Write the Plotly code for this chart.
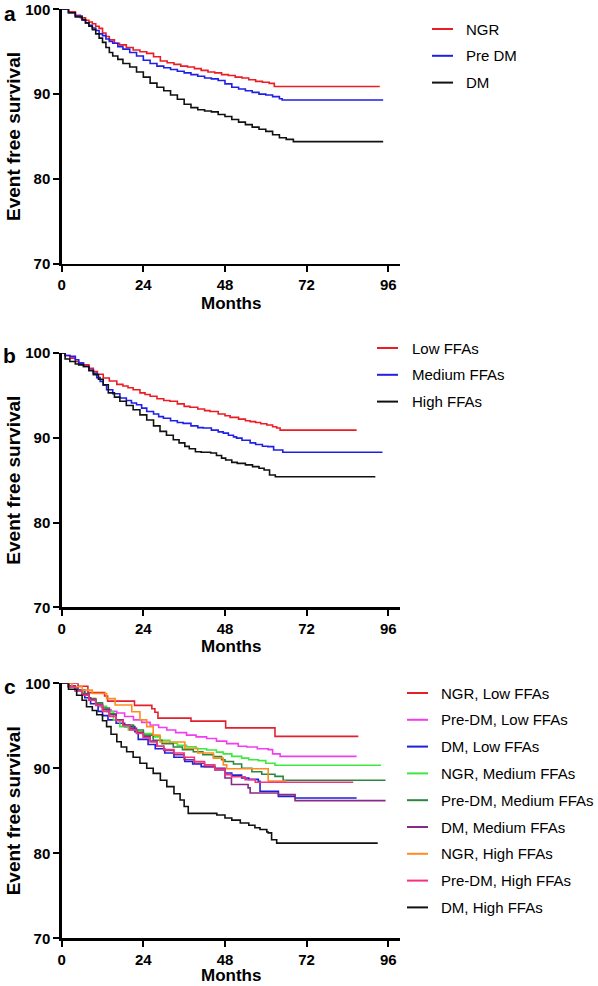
import plotly.graph_objects as go

W, H = 598, 986

# ---------------- data (months, event free survival %) ----------------
# Panel a
a_ngr_m = [0, 2, 4, 5.5, 7, 8, 9, 10, 11, 12, 13, 14, 15.5, 17, 19, 21, 23, 25, 27, 29, 31, 33, 35, 37, 39, 41, 43, 45, 47, 49, 51, 53, 55, 57, 59, 61, 62.5, 93.5]
a_ngr_s = [100, 99.7, 99.3, 99.0, 98.7, 98.5, 98.3, 98.0, 97.75, 97.2, 96.8, 96.4, 96.0, 95.8, 95.5, 95.2, 95.0, 94.8, 94.4, 93.9, 93.7, 93.5, 93.3, 93.2, 93.0, 92.8, 92.6, 92.5, 92.3, 92.2, 92.0, 91.9, 91.7, 91.5, 91.4, 91.27, 90.9, 90.9]
a_pre_m = [0, 2, 4, 6, 7, 8, 9, 10, 11, 12, 13, 14, 15, 16.5, 18, 20, 22, 24, 26, 28, 30, 32, 34, 36, 38, 40, 42, 44, 46, 48, 50, 52, 54, 56, 58, 60, 62, 64, 64.8, 94.5]
a_pre_s = [100, 99.6, 99.2, 98.7, 98.4, 98.1, 97.8, 97.5, 97.1, 96.9, 96.5, 96.2, 96.0, 95.6, 95.3, 94.9, 94.5, 94.0, 93.6, 93.3, 93.1, 92.9, 92.7, 92.5, 92.3, 92.1, 91.9, 91.8, 91.6, 91.2, 90.8, 90.6, 90.4, 90.2, 90.0, 89.9, 89.7, 89.45, 89.3, 89.3]
a_dm_m = [0, 2, 4, 6, 7, 8, 9, 10, 11, 12, 13, 14, 15, 16.5, 18, 20, 22, 24, 26, 28, 30, 32, 34, 36, 38, 40, 42, 44, 46, 48, 50, 52, 54, 56, 58, 60, 62, 64, 66, 68.1, 94.5]
a_dm_s = [100, 99.6, 99.1, 98.8, 98.4, 98.0, 97.6, 97.1, 96.6, 96.1, 95.5, 94.9, 94.5, 94.1, 93.6, 93.2, 92.6, 92.0, 91.3, 90.8, 90.4, 89.9, 89.4, 88.8, 88.4, 88.15, 88.0, 87.9, 87.6, 87.35, 87.0, 86.7, 86.4, 86.1, 85.85, 85.6, 85.2, 84.85, 84.66, 84.4, 84.4]

# Panel b
b_low_m = [0, 1, 2.4, 4, 5, 6.4, 8, 9.3, 10.5, 12.2, 14, 16.2, 18, 19.5, 21, 23, 24.5, 26, 28, 30, 31.8, 34, 36, 37.7, 40, 42, 43.6, 46, 48, 49.5, 52, 54, 55.4, 57, 58.5, 60.3, 62, 63.2, 64.2, 86.7]
b_low_s = [100, 99.7, 99.4, 99.0, 98.8, 98.6, 98.2, 97.8, 97.5, 97.05, 96.7, 96.3, 96.1, 95.9, 95.67, 95.3, 95.1, 94.9, 94.6, 94.4, 94.3, 94.0, 93.7, 93.6, 93.4, 93.2, 93.1, 92.8, 92.6, 92.4, 92.2, 92.0, 91.9, 91.8, 91.65, 91.5, 91.3, 91.15, 90.9, 90.9]
b_med_m = [0, 1, 2.4, 4, 5, 6.4, 8, 9.3, 10.3, 11.3, 12.2, 13.2, 15, 17.1, 19, 20.5, 22, 23.5, 25, 27, 28.5, 29.9, 32, 34, 35.7, 38, 40, 41.6, 44, 46, 47.5, 49, 50.5, 51.4, 53, 55.4, 57, 59, 60.6, 62.3, 65, 94.3]
b_med_s = [100, 99.7, 99.6, 99.2, 98.8, 98.4, 98.0, 97.6, 97.1, 96.65, 96.2, 95.67, 95.2, 94.7, 94.4, 94.1, 93.9, 93.5, 93.1, 92.8, 92.5, 92.3, 92.0, 91.8, 91.7, 91.4, 91.2, 91.15, 90.9, 90.7, 90.55, 90.3, 90.1, 89.96, 89.7, 89.4, 89.2, 89.0, 88.95, 88.55, 88.3, 88.3]
b_high_m = [0, 1, 2.4, 4, 5, 6.4, 8, 9.3, 10.8, 12.2, 13.7, 15.5, 17.1, 19, 21, 23, 25, 27, 28.9, 30.8, 32.8, 34.5, 36.2, 37.5, 39.3, 41, 43.8, 45.5, 47, 48.2, 50, 51.6, 54, 56.1, 58, 59.5, 61.1, 62.8, 92.2]
b_high_s = [100, 99.3, 99.0, 98.7, 98.6, 98.4, 97.9, 97.45, 96.9, 96.26, 95.3, 94.8, 94.3, 93.8, 93.3, 92.7, 92.1, 91.4, 90.75, 90.3, 89.76, 89.4, 88.98, 88.7, 88.35, 88.3, 88.2, 87.9, 87.6, 87.37, 87.1, 86.98, 86.8, 86.6, 86.4, 86.2, 85.6, 85.4, 85.4]

# Panel c
c_ngr_low_m = [0, 4.8, 7.7, 12.6, 13.5, 21.4, 26.5, 27.4, 28.3, 38, 48.2, 62.7, 87.2]
c_ngr_low_s = [100, 99.65, 98.9, 98.5, 97.9, 97.4, 97.0, 96.6, 95.9, 95.55, 94.75, 93.76, 93.76]
c_pre_low_m = [0, 2, 4, 6.4, 8, 10, 11.3, 13, 14.5, 16.2, 18.5, 21.1, 23.5, 26, 28.5, 30.9, 33.5, 36.7, 39.5, 42.6, 45.5, 48.5, 51.9, 54.4, 57.5, 60.7, 62, 64.2, 86.7]
c_pre_low_s = [100, 99.6, 99.1, 98.6, 98.1, 97.6, 97.25, 96.9, 96.7, 96.5, 96.1, 95.7, 95.4, 95.1, 94.8, 94.5, 94.2, 93.9, 93.7, 93.5, 93.2, 92.9, 92.6, 92.5, 92.3, 92.2, 91.7, 91.4, 91.4]
c_dm_low_m = [0, 2, 4.8, 6.8, 8.5, 10.7, 12, 13.6, 16, 18.5, 21.5, 22.5, 25.4, 27.5, 30.3, 33, 36.2, 38.5, 41, 45, 48, 50, 52.9, 55, 57.8, 58.3, 63.7, 68.6, 86.7]
c_dm_low_s = [100, 99.6, 99.25, 98.3, 97.6, 96.7, 96.2, 95.7, 95.3, 94.9, 94.3, 93.4, 92.8, 92.3, 91.8, 91.3, 90.8, 90.5, 90.2, 90.0, 89.45, 89.2, 88.86, 88.7, 88.47, 87.3, 86.7, 86.5, 86.5]
c_ngr_med_m = [0, 2, 4, 6.4, 8, 10, 11.3, 13.2, 15.2, 17.1, 19.6, 22.4, 24, 26.9, 29, 31.8, 34, 36.7, 39.5, 42.6, 45.5, 47.5, 50, 52.9, 55, 57.8, 60, 62.7, 93.9]
c_ngr_med_s = [100, 99.6, 99.1, 98.6, 98.1, 97.7, 97.3, 96.66, 95.7, 94.9, 94.5, 94.3, 94.1, 93.7, 93.3, 92.94, 92.7, 92.54, 92.3, 92.15, 91.9, 91.7, 91.4, 91.2, 91.0, 90.9, 90.6, 90.35, 90.35]
c_pre_med_m = [0, 2, 4, 6, 8, 10, 12, 14, 16, 18, 21.1, 24, 26.9, 29.5, 32.8, 35.5, 38.7, 41.5, 44.6, 47, 48, 50.5, 52.9, 55.9, 58.8, 62.7, 65.1, 95.2]
c_pre_med_s = [100, 99.6, 99.2, 98.8, 98.2, 97.7, 97.1, 96.4, 95.7, 95.1, 94.5, 93.9, 93.3, 92.9, 92.5, 92.2, 91.95, 91.6, 91.37, 91.0, 90.8, 90.5, 90.0, 89.6, 89.3, 89.05, 88.6, 88.6]
c_dm_med_m = [0, 2, 4, 6, 8, 10, 12, 14, 16, 18, 20, 22, 24, 26, 28, 30, 33, 36, 39, 42, 45, 48, 49.9, 54.8, 55.4, 63.7, 68.6, 95.2]
c_dm_med_s = [100, 99.7, 99.2, 98.7, 98.1, 97.5, 96.9, 96.3, 95.7, 95.1, 94.7, 94.2, 93.7, 93.2, 92.6, 92.1, 91.6, 91.0, 90.6, 90.2, 89.8, 88.86, 88.1, 87.7, 87.1, 86.9, 86.2, 86.2]
c_ngr_high_m = [0, 3, 6, 9, 13.2, 15.7, 20.6, 23, 25, 26.9, 28.9, 36.2, 40, 44.6, 47.5, 48.5, 60.7, 66]
c_ngr_high_s = [100, 99.6, 99.2, 98.8, 98.2, 97.45, 96.66, 95.7, 94.9, 93.9, 93.1, 92.35, 91.8, 91.2, 90.4, 89.95, 88.5, 88.5]
c_pre_high_m = [0, 2, 4, 6, 8, 10, 12, 14, 16, 18, 20, 22, 24, 26, 28, 30, 33, 36, 39, 42, 45, 48, 49.9, 53.9, 56.9, 85.7]
c_pre_high_s = [100, 99.6, 99.1, 98.6, 98.0, 97.4, 96.7, 96.1, 95.6, 95.0, 94.5, 94.1, 93.6, 93.1, 92.6, 92.2, 91.8, 91.3, 90.8, 90.4, 89.9, 89.25, 89.0, 88.66, 88.35, 88.35]
c_dm_high_m = [0, 2, 4.4, 6, 7.3, 9, 10.3, 12, 13.2, 14.5, 16.2, 17.5, 19.1, 21, 23, 25, 26.9, 29, 30.9, 33, 34.8, 36, 37.2, 45.6, 48, 50, 52.5, 55, 56.8, 58.3, 60.3, 60.7, 61.7, 63.2, 92.9]
c_dm_high_s = [100, 99.3, 98.6, 98.0, 97.25, 96.8, 96.3, 95.6, 94.9, 94.0, 93.13, 92.5, 91.95, 91.3, 90.6, 90.0, 89.4, 88.6, 87.84, 87.0, 86.27, 85.5, 84.7, 84.5, 84.15, 83.9, 83.56, 83.3, 83.0, 82.8, 82.5, 82.4, 81.6, 81.2, 81.2]

x_ticks = [0, 24, 48, 72, 96]
y_ticks = [70, 80, 90, 100]
panel_letters = ["a", "b", "c"]
x_title = "Months"
y_title = "Event free survival"

series = [
    # (panel, name, months, survival, colour)
    (0, "NGR", a_ngr_m, a_ngr_s, "#ec1c24"),
    (0, "Pre DM", a_pre_m, a_pre_s, "#1f1fe8"),
    (0, "DM", a_dm_m, a_dm_s, "#111111"),
    (1, "Low FFAs", b_low_m, b_low_s, "#ec1c24"),
    (1, "Medium FFAs", b_med_m, b_med_s, "#1f1fe8"),
    (1, "High FFAs", b_high_m, b_high_s, "#111111"),
    (2, "NGR, Low FFAs", c_ngr_low_m, c_ngr_low_s, "#e4212a"),
    (2, "Pre-DM, Low FFAs", c_pre_low_m, c_pre_low_s, "#f23cf2"),
    (2, "DM, Low FFAs", c_dm_low_m, c_dm_low_s, "#1f1fd8"),
    (2, "NGR, Medium FFAs", c_ngr_med_m, c_ngr_med_s, "#3ee83e"),
    (2, "Pre-DM, Medium FFAs", c_pre_med_m, c_pre_med_s, "#2e8540"),
    (2, "DM, Medium FFAs", c_dm_med_m, c_dm_med_s, "#862b86"),
    (2, "NGR, High FFAs", c_ngr_high_m, c_ngr_high_s, "#ff8c1f"),
    (2, "Pre-DM, High FFAs", c_pre_high_m, c_pre_high_s, "#f5327f"),
    (2, "DM, High FFAs", c_dm_high_m, c_dm_high_s, "#111111"),
]

# ---------------- layout geometry (pixels) ----------------
X_LEFT, X_RIGHT = 61.7, 400.0
PANELS = [  # (px of y=100, px of y=70, legend line x0, legend text x, first legend row y, letter top)
    (9.3, 263.7, 432, 464, 29, 0),
    (353.0, 607.3, 377, 410, 348, 342),
    (683.3, 938.3, 407, 439, 693, 673),
]
ROW_STEP = 26.8
LEG_LINE_LEN = 21
FONT = "Liberation Sans, Arial, Helvetica, sans-serif"

fig = go.Figure()
axis_ids = [("x", "y"), ("x2", "y2"), ("x3", "y3")]

for p, name, m, s, col in series:
    xa, ya = axis_ids[p]
    fig.add_trace(go.Scatter(
        x=m, y=s, mode="lines", name=name,
        line=dict(color=col, width=1.6, shape="hv"),
        xaxis=xa, yaxis=ya, showlegend=False, hoverinfo="skip",
    ))

layout = dict(
    width=W, height=H, margin=dict(l=0, r=0, t=0, b=0, autoexpand=False),
    paper_bgcolor="white", plot_bgcolor="white",
    font=dict(family=FONT, color="black"),
    showlegend=False,
)

annotations = []
shapes = []
for k, (top, bot, lx0, tx, ly0, let_top) in enumerate(PANELS):
    sfx = "" if k == 0 else str(k + 1)
    axis_common = dict(showline=True, linecolor="black", linewidth=2.4,
                       ticks="outside", ticklen=6, tickwidth=2, tickcolor="black",
                       showgrid=False, zeroline=False, automargin=False,
                       tickfont=dict(family=FONT, size=15, color="black", weight="bold"))
    layout["xaxis" + sfx] = dict(axis_common, domain=[X_LEFT / W, X_RIGHT / W],
                                 range=[0, 99.45], tickvals=x_ticks,
                                 anchor="y" + sfx, fixedrange=True)
    layout["yaxis" + sfx] = dict(axis_common, domain=[1 - bot / H, 1 - top / H],
                                 range=[70, 100], tickvals=y_ticks,
                                 anchor="x" + sfx, fixedrange=True)
    # y title
    annotations.append(dict(text=y_title, textangle=-90, x=13.5 / W, y=1 - (top + bot) / 2 / H,
                            xref="paper", yref="paper", showarrow=False,
                            xanchor="center", yanchor="middle",
                            font=dict(family=FONT, size=19, color="black", weight="bold")))
    # x title
    annotations.append(dict(text=x_title, x=(X_LEFT + X_RIGHT) / 2 / W,
                            y=1 - min(bot + 39.5, 975.5) / H,
                            xref="paper", yref="paper", showarrow=False,
                            xanchor="center", yanchor="middle",
                            font=dict(family=FONT, size=17, color="black", weight="bold")))
    # panel letter
    annotations.append(dict(text=panel_letters[k], x=9.5 / W, y=1 - let_top / H,
                            xref="paper", yref="paper", showarrow=False,
                            xanchor="center", yanchor="top",
                            font=dict(family=FONT, size=21, color="black", weight="bold")))
    # legend for this panel
    row = 0
    for p, name, m, s, col in series:
        if p != k:
            continue
        yy = 1 - (ly0 + row * ROW_STEP) / H
        shapes.append(dict(type="line", xref="paper", yref="paper",
                           x0=lx0 / W, x1=(lx0 + LEG_LINE_LEN) / W, y0=yy, y1=yy,
                           line=dict(color=col, width=2)))
        annotations.append(dict(text=name, x=tx / W, y=yy, xref="paper", yref="paper",
                                showarrow=False, xanchor="left", yanchor="middle",
                                font=dict(family=FONT, size=15, color="black")))
        row += 1

layout["annotations"] = annotations
layout["shapes"] = shapes
fig.update_layout(**layout)
fig.write_html("out.html",
               config={"displayModeBar": False, "staticPlot": True},
               post_script="document.body.style.margin='0';document.body.style.overflow='hidden';")
